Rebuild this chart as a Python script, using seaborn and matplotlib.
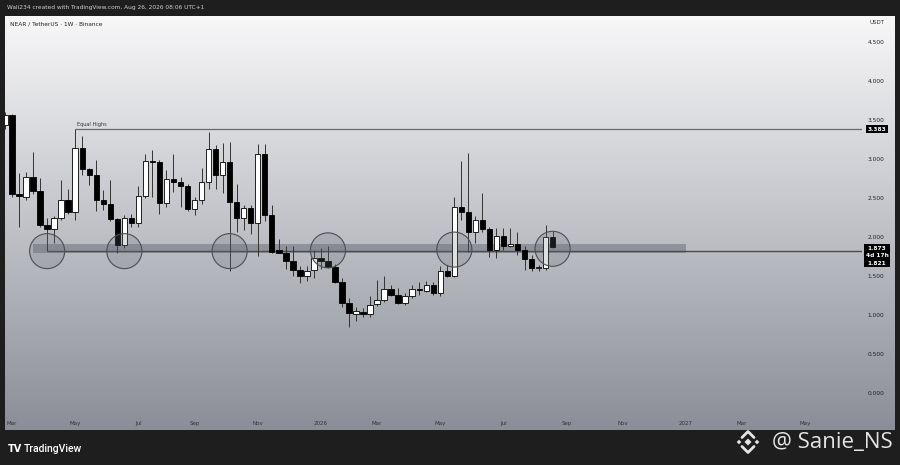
import numpy as np
import pandas as pd
import seaborn as sns
import matplotlib.pyplot as plt
import matplotlib.dates as mdates
from matplotlib.patches import Ellipse, Rectangle, Polygon
from matplotlib.lines import Line2D
from matplotlib.transforms import blended_transform_factory

sns.set_theme(style="white")
plt.rcParams['font.family'] = ['DejaVu Sans']

# weekly NEARUSDT candles, first one is the week of 2025-02-24
first_week = "2025-02-24"
opens = [3.43, 3.56, 2.55, 2.51, 2.77, 2.59, 2.155, 2.10, 2.24, 2.48,
         2.32, 3.14, 2.87, 2.79, 2.47, 2.42, 2.23, 1.90, 2.25, 2.18,
         2.53, 2.98, 2.96, 2.44, 2.75, 2.71, 2.65, 2.36, 2.47, 2.70,
         3.13, 2.80, 2.96, 2.45, 2.25, 2.37, 2.18, 3.07, 2.28, 1.83,
         1.80, 1.70, 1.58, 1.50, 1.58, 1.73, 1.70, 1.62, 1.43, 1.16,
         1.02, 1.045, 1.01, 1.14, 1.20, 1.34, 1.26, 1.16, 1.24, 1.34,
         1.31, 1.39, 1.28, 1.56, 1.50, 2.39, 2.32, 2.06, 2.22, 2.10,
         1.83, 2.01, 1.89, 1.91, 1.84, 1.72, 1.60, 1.60, 2.00]
highs = [3.60, 3.57, 2.82, 2.83, 3.09, 2.76, 2.25, 2.27, 2.73, 2.62,
         3.383, 3.29, 2.88, 2.99, 2.60, 2.73, 2.25, 2.28, 2.30, 2.65,
         3.07, 3.11, 2.99, 2.86, 3.07, 2.77, 2.68, 2.51, 2.88, 3.34,
         3.18, 3.20, 3.22, 2.68, 2.41, 2.41, 3.19, 3.19, 2.41, 1.98,
         1.89, 1.89, 1.63, 1.63, 1.84, 1.86, 1.89, 1.66, 1.47, 1.22,
         1.11, 1.09, 1.25, 1.45, 1.50, 1.39, 1.35, 1.29, 1.39, 1.43,
         1.44, 1.43, 1.63, 1.64, 2.51, 2.98, 3.08, 2.27, 2.56, 2.13,
         2.11, 2.11, 2.11, 2.07, 1.88, 1.77, 1.64, 2.15, 2.08]
lows = [3.38, 2.51, 2.13, 2.47, 2.55, 2.13, 1.82, 1.92, 2.22, 2.30,
        2.22, 2.80, 2.67, 2.33, 2.35, 2.20, 1.79, 1.86, 2.13, 2.13,
        2.50, 2.51, 2.30, 2.39, 2.58, 2.38, 2.33, 2.28, 2.43, 2.62,
        2.62, 2.56, 1.56, 2.07, 2.09, 2.04, 1.76, 2.20, 1.80, 1.79,
        1.59, 1.50, 1.41, 1.44, 1.47, 1.59, 1.60, 1.41, 1.10, 0.845,
        0.93, 0.98, 0.98, 1.12, 1.17, 1.24, 1.14, 1.13, 1.22, 1.26,
        1.30, 1.26, 1.24, 1.49, 1.49, 2.22, 1.81, 1.93, 2.07, 1.74,
        1.73, 1.84, 1.87, 1.77, 1.58, 1.56, 1.56, 1.58, 1.86]
closes = [3.56, 2.55, 2.52, 2.77, 2.59, 2.16, 2.10, 2.24, 2.48, 2.32,
          3.14, 2.87, 2.79, 2.47, 2.42, 2.23, 1.90, 2.25, 2.18, 2.53,
          2.98, 2.96, 2.44, 2.75, 2.71, 2.65, 2.36, 2.47, 2.70, 3.13,
          2.80, 2.96, 2.45, 2.25, 2.37, 2.18, 3.07, 2.28, 1.81, 1.80,
          1.70, 1.58, 1.50, 1.57, 1.73, 1.70, 1.62, 1.43, 1.16, 1.03,
          1.05, 1.01, 1.13, 1.19, 1.34, 1.26, 1.16, 1.24, 1.34, 1.32,
          1.39, 1.28, 1.56, 1.50, 2.39, 2.32, 2.06, 2.22, 2.10, 1.83,
          2.01, 1.89, 1.91, 1.84, 1.72, 1.60, 1.61, 2.00, 1.873]

month_starts = ["2025-03-01", "2025-05-01", "2025-07-01", "2025-09-01",
                "2025-11-01", "2026-01-01", "2026-03-01", "2026-05-01",
                "2026-07-01", "2026-09-01", "2026-11-01", "2027-01-01",
                "2027-03-01", "2027-05-01"]
month_labels = ["Mar", "May", "Jul", "Sep", "Nov", "2026", "Mar", "May",
                "Jul", "Sep", "Nov", "2027", "Mar", "May"]
price_ticks = [0.0, 0.5, 1.0, 1.5, 2.0, 2.5, 3.0, 3.5, 4.0, 4.5]

equal_high = 3.383
equal_high_week = "2025-05-05"
last_price = 1.873
level_price = 1.821
level_start = "2025-04-07"
zone_low, zone_high = 1.80, 1.91
zone_start, zone_end = "2025-03-24", "2027-01-04"
circle_weeks = ["2025-04-07", "2025-06-23", "2025-10-06", "2026-01-12",
                "2026-05-18", "2026-08-24"]
circle_prices = [1.82, 1.82, 1.82, 1.83, 1.84, 1.85]

W, H = 900, 465
fig = plt.figure(figsize=(9, 4.65), dpi=100)
fig.patch.set_facecolor('#1e1e1e')

# gradient background of the chart panel
bg = fig.add_axes([5 / W, (H - 430) / H, 890 / W, 414 / H])
top = np.array([0.972, 0.972, 0.976])
bot = np.array([0.545, 0.557, 0.596])
t = np.linspace(0, 1, 256)[:, None]
grad = (top[None, :] * (1 - t) + bot[None, :] * t)[:, None, :]
bg.imshow(grad, aspect='auto', extent=[0, 1, 0, 1])
bg.axis('off')

ax = fig.add_axes([5 / W, (H - 416) / H, 857 / W, 400 / H])
ax.set_facecolor('none')

dates = pd.date_range(first_week, periods=len(opens), freq='7D')
x = mdates.date2num(dates)
o = np.array(opens); c = np.array(closes)
hi = np.array(highs); lo = np.array(lows)
up = c >= o
body_bottom = np.minimum(o, c)
body_h = np.maximum(np.abs(c - o), 0.012)

x0 = mdates.date2num(pd.Timestamp("2025-03-03"))
xl, xr = x0 - 7.0, x0 + 847.5

# zone, level and equal highs
zs = mdates.date2num(pd.Timestamp(zone_start))
ze = mdates.date2num(pd.Timestamp(zone_end))
ax.add_patch(Rectangle((zs, zone_low), ze - zs, zone_high - zone_low,
                       fc='#6e717b', alpha=0.55, ec='none', zorder=1))
ax.hlines(level_price, mdates.date2num(pd.Timestamp(level_start)), xr,
          color='#4a4c52', lw=1.0, zorder=2)
eh = mdates.date2num(pd.Timestamp(equal_high_week))
ax.hlines(equal_high, eh, xr, color='#6a6a6e', lw=0.9, zorder=2)
ax.text(eh + 1.5, equal_high + 0.03, "Equal Highs", fontsize=3.6,
        color='#333', va='bottom', ha='left')

# candles
ax.vlines(x, lo, hi, color='#333333', lw=0.7, zorder=3)
ax.bar(x, body_h, bottom=body_bottom, width=5.4,
       color=np.where(up, 'white', 'black'), edgecolor='black',
       linewidth=0.6, zorder=4)

# circles around retests
for cw, cp in zip(circle_weeks, circle_prices):
    cx = mdates.date2num(pd.Timestamp(cw))
    ax.add_patch(Ellipse((cx, cp), width=35, height=35 / 78.1,
                         fc=(0.42, 0.43, 0.47, 0.22), ec='#4d4d52',
                         lw=0.8, zorder=5))

ax.set_xlim(xl, xr)
ax.set_ylim(-0.291, 4.831)

ticks_x = []
for m in month_starts:
    d = pd.Timestamp(m)
    ticks_x.append(mdates.date2num(d + pd.Timedelta(days=(7 - d.weekday()) % 7)))
ax.set_xticks(ticks_x)
ax.set_xticklabels(month_labels)
ax.yaxis.tick_right()
ax.set_yticks(price_ticks)
ax.set_yticklabels(["%.3f" % p for p in price_ticks])
ax.tick_params(axis='y', length=0, pad=4, labelsize=4.2, labelcolor='#222')
ax.tick_params(axis='x', length=0, pad=3.5, labelsize=4, labelcolor='#333')
ax.grid(False)
sns.despine(ax=ax, left=True, bottom=True, right=True, top=True)

# price axis boxes
tr = blended_transform_factory(ax.transAxes, ax.transData)
xb = 1 + 15 / 857
ax.text(xb, equal_high, "3.383", transform=tr, ha='center', va='center',
        fontsize=4.2, color='white', fontweight='bold', clip_on=False,
        bbox=dict(boxstyle='square,pad=0.3', fc='black', ec='none'), zorder=10)
ax.text(xb, 1.76, "%.3f\n4d 17h\n%.3f" % (last_price, level_price),
        transform=tr, ha='center', va='center', fontsize=4.2, color='white',
        fontweight='bold', linespacing=1.55, clip_on=False,
        bbox=dict(boxstyle='square,pad=0.3', fc='black', ec='none'), zorder=10)

# header / titles
fig.text(7 / W, 1 - 7.5 / H, "Wali234 created with TradingView.com, Aug 26, 2026 08:06 UTC+1",
         fontsize=4.2, color='#d0d0d0', va='center', ha='left')
fig.text(10 / W, 1 - 24 / H, "NEAR / TetherUS · 1W · Binance",
         fontsize=4.2, color='#222', va='center', ha='left')
fig.text(877 / W, 1 - 22 / H, "USDT", fontsize=4, color='#333',
         va='center', ha='center')

# footer
fig.text(8 / W, 1 - 449 / H, "TV", fontsize=7, fontweight='bold',
         color='white', va='center', ha='left')
fig.text(24 / W, 1 - 449 / H, "TradingView", fontsize=7.5, color='white',
         va='center', ha='left', family=['Roboto', 'DejaVu Sans'], fontweight='medium')
fig.text(893 / W, 1 - 442 / H, "@ Sanie_NS", fontsize=16, color='#e4e4e4',
         va='center', ha='right', family=['Open Sans', 'DejaVu Sans'])

# binance mark
cx, cy = 748, 442


def px(pts):
    return [((cx + a) / W, 1 - (cy - b) / H) for a, b in pts]


def diamond(dx, dy, s):
    return px([(dx - s, dy), (dx, dy + s), (dx + s, dy), (dx, dy - s)])


for dx, dy, s in [(0, 0, 3.5), (-9, 0, 2.3), (9, 0, 2.3)]:
    fig.patches.append(Polygon(diamond(dx, dy, s), closed=True, fc='#e4e4e4',
                               ec='none', transform=fig.transFigure, figure=fig))
for sign in (1, -1):
    pts = px([(-6, sign * 4.5), (0, sign * 10.5), (6, sign * 4.5)])
    fig.lines.append(Line2D([p[0] for p in pts], [p[1] for p in pts], lw=2.0,
                            color='#e4e4e4', transform=fig.transFigure, figure=fig))

plt.savefig('out.png', dpi=100, facecolor=fig.get_facecolor())
